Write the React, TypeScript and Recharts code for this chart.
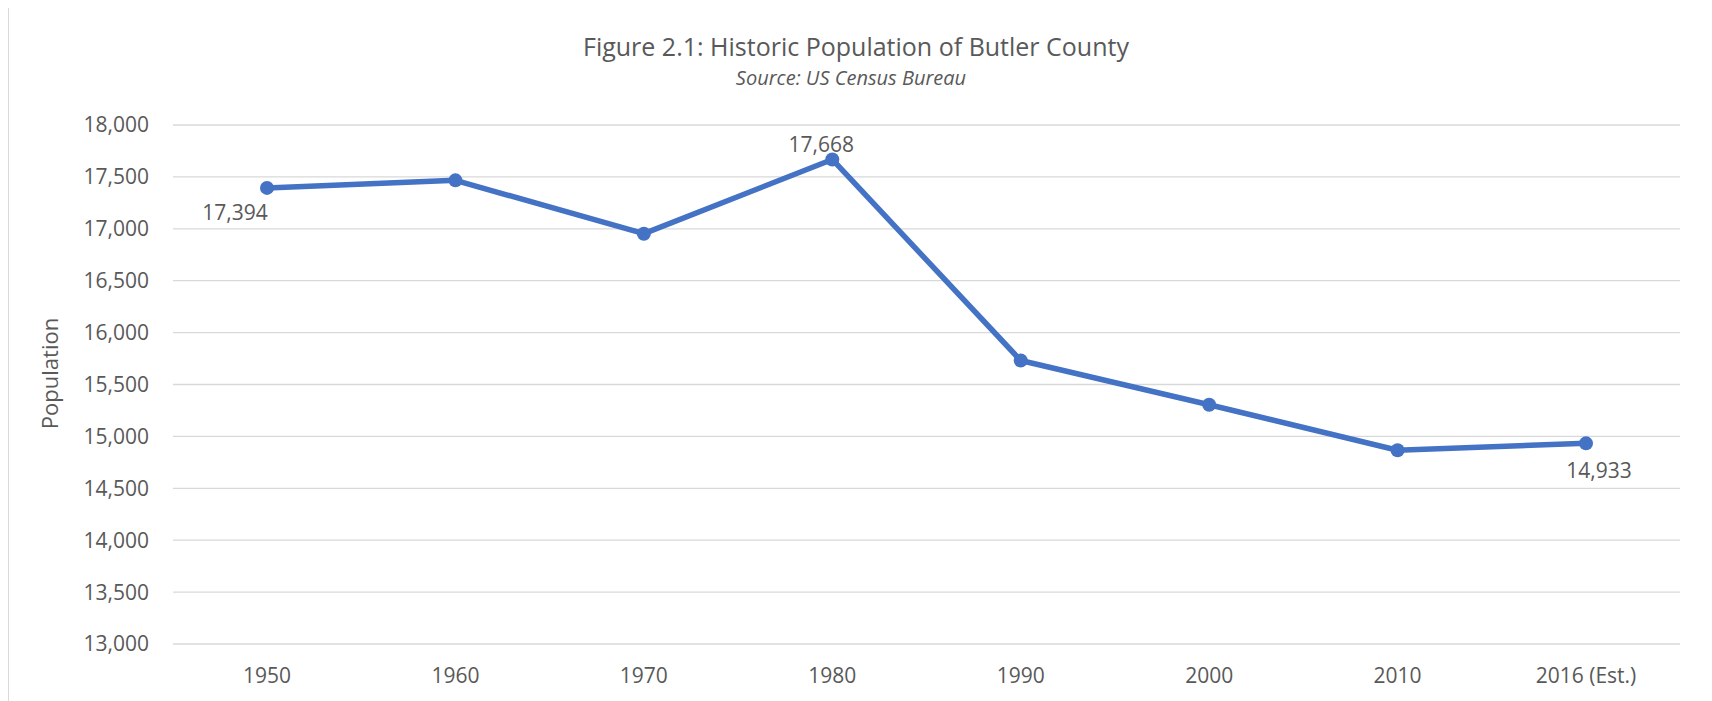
import { CartesianGrid, LabelList, Line, LineChart, XAxis, YAxis } from "recharts";

const years = ["1950", "1960", "1970", "1980", "1990", "2000", "2010", "2016 (Est.)"];
const population = [17394, 17467, 16953, 17668, 15731, 15305, 14867, 14933];
const yTicks = [13000, 13500, 14000, 14500, 15000, 15500, 16000, 16500, 17000, 17500, 18000];
const labeledYears = ["1950", "1980", "2016 (Est.)"];

const data = years.map((year, i) => ({ year, population: population[i] }));

const ink = "#595959";
const font = "'Open Sans', sans-serif";

// hand-placed like the Excel original
const labelOffsets: Record<string, [number, number]> = {
  "1950": [-32, 25],
  "1980": [-11, -15],
  "2016 (Est.)": [13, 27]
};

function PointLabel(props: any) {
  const { x, y, value, index } = props;
  const year = years[index];
  if (!labeledYears.includes(year)) return null;
  const [dx, dy] = labelOffsets[year] ?? [0, -15];
  return (
    <text
      x={Number(x) + dx}
      y={Number(y) + dy}
      dy="0.35em"
      textAnchor="middle"
      fill={ink}
      fontFamily={font}
      fontSize={21}
    >
      {Number(value).toLocaleString("en-US")}
    </text>
  );
}

function AxisTitle(props: any) {
  const vb = props.viewBox ?? {};
  const cy = (vb.y ?? 0) + (vb.height ?? 0) / 2 - 11;
  return (
    <text
      x={40}
      y={cy}
      transform={`rotate(-90, 40, ${cy})`}
      textAnchor="middle"
      dominantBaseline="central"
      fill={ink}
      fontFamily={font}
      fontSize={22}
    >
      Population
    </text>
  );
}

export default function App() {
  return (
    <div
      style={{
        position: "relative",
        marginTop: -2,
        width: 1700,
        height: 700,
        border: "1px solid #d9d9d9",
        background: "#fff",
        fontFamily: font,
        color: ink
      }}
    >
      <div
        style={{
          position: "absolute",
          top: 26,
          left: 0,
          width: 1694,
          textAlign: "center",
          fontSize: 25,
          lineHeight: "26px"
        }}
      >
        Figure 2.1: Historic Population of Butler County
      </div>
      <div
        style={{
          position: "absolute",
          top: 60,
          left: 0,
          width: 1684,
          textAlign: "center",
          fontSize: 20,
          fontStyle: "italic",
          lineHeight: "22px"
        }}
      >
        Source: US Census Bureau
      </div>

      <LineChart width={1700} height={700} data={data} margin={{ top: 118, right: 29, left: 0, bottom: 23 }}>
        <CartesianGrid stroke="#d9d9d9" strokeWidth={1.3} vertical={false} />
        <XAxis
          dataKey="year"
          axisLine={false}
          tickLine={false}
          tickSize={0}
          tickMargin={24}
          height={40}
          padding={{ left: 94, right: 94 }}
          interval={0}
          tick={{ fill: ink, fontSize: 21, fontFamily: font }}
        />
        <YAxis
          domain={[13000, 18000]}
          ticks={yTicks}
          axisLine={false}
          tickLine={false}
          tickSize={0}
          tickMargin={24}
          width={164}
          interval={0}
          tickFormatter={(v) => Number(v).toLocaleString("en-US")}
          tick={{ fill: ink, fontSize: 21, fontFamily: font }}
          label={<AxisTitle />}
        />
        <Line
          dataKey="population"
          type="linear"
          stroke="#4472C4"
          strokeWidth={5.5}
          strokeLinejoin="round"
          dot={{ r: 7, fill: "#4472C4", stroke: "none" }}
          activeDot={false}
          isAnimationActive={false}
        >
          <LabelList dataKey="population" content={<PointLabel />} />
        </Line>
      </LineChart>
    </div>
  );
}
